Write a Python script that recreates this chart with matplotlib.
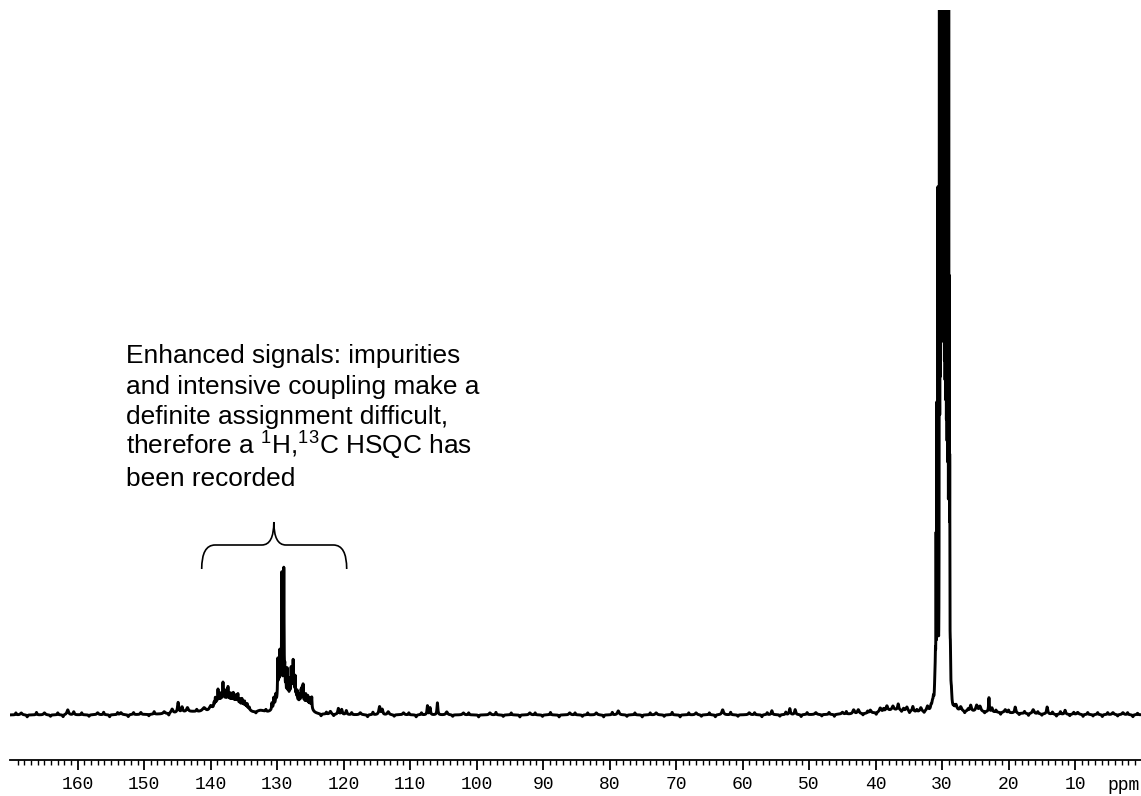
import numpy as np
import matplotlib
matplotlib.use("Agg")
import matplotlib.pyplot as plt
from matplotlib.path import Path
from matplotlib.patches import PathPatch

plt.rcParams['mathtext.fontset'] = 'custom'
plt.rcParams['mathtext.rm'] = 'Liberation Sans'
plt.rcParams['mathtext.it'] = 'Liberation Sans'

# ---------------- data ----------------
ppm_left, ppm_right = 170.18, 0.08
major_ticks = [160, 150, 140, 130, 120, 110, 100, 90, 80, 70, 60, 50, 40, 30, 20, 10]
major_labels = [str(t) for t in major_ticks]
axis_unit = "ppm"

# baseline features: position (ppm), height, FWHM (ppm)
base_ppm = [168.5, 165.0, 161.5, 160.6, 157.0, 153.5, 150.5, 147.0, 145.8, 144.9,
            144.3, 143.5, 143.0, 141.0, 140.0, 132.5, 122.0, 120.8, 120.3, 119.6,
            117.5, 114.6, 114.2, 113.3, 111.0, 107.4, 107.0, 105.9, 104.5, 102.0,
            98.0, 92.0, 86.0, 82.0, 78.7, 73.0, 67.0, 63.0, 59.0, 55.6,
            52.9, 52.1, 49.0, 45.0, 43.3, 42.6, 37.0, 40.8, 39.3, 38.3,
            37.4, 36.6, 35.3, 34.4, 33.2, 32.2, 27.9, 27.2, 25.7, 24.8,
            24.3, 25.0, 22.95, 22.5, 20.5, 19.0, 16.3, 14.2, 11.5, 9.6,
            4.3, 2.8]
base_h = [2, 2, 5, 3, 2, 2, 2, 2, 4, 10,
          5, 4, 3, 4, 5, 3, 3, 6, 5, 4,
          2, 8, 5, 3, 2, 9, 7, 12, 3, 2,
          2, 2, 2, 2, 4, 2, 2, 5, 2, 4,
          6, 5, 2, 2, 4, 4, 4, 3, 4, 5,
          4, 6, 4, 5, 4, 5, 5, 4, 6, 6,
          5, 3, 14, 4, 3, 6, 4, 7, 4, 2,
          2, 2]
base_w = [0.3, 0.3, 0.3, 0.2, 0.3, 0.3, 0.2, 0.3, 0.3, 0.2,
          0.2, 0.3, 6.0, 0.6, 0.5, 1.5, 0.3, 0.2, 0.2, 0.2,
          0.3, 0.25, 0.2, 0.3, 0.3, 0.15, 0.15, 0.15, 0.3, 0.3,
          0.3, 0.3, 0.3, 0.3, 0.3, 0.3, 0.3, 0.3, 0.3, 0.2,
          0.2, 0.2, 0.3, 0.3, 0.3, 0.3, 5.0, 0.3, 0.3, 0.3,
          0.3, 0.2, 0.3, 0.2, 0.3, 0.3, 0.3, 0.3, 0.25, 0.3,
          0.3, 14.0, 0.12, 0.2, 0.3, 0.2, 0.3, 0.2, 0.2, 0.3,
          0.3, 0.3]

# small baseline jitter (ppm, height)
jit_ppm = [169.3, 167.6, 166.2, 164.1, 163.0, 162.2, 159.4, 158.3, 156.1, 155.2,
           154.0, 152.4, 151.6, 149.3, 148.5, 146.3, 142.1, 133.2, 131.7, 123.4,
           122.6, 121.5, 118.8, 116.4, 115.6, 112.4, 110.2, 109.1, 108.3, 103.6,
           101.2, 99.7, 97.1, 96.0, 94.8, 93.5, 91.2, 90.1, 88.9, 87.6,
           85.2, 84.1, 83.3, 80.9, 79.6, 77.4, 76.2, 75.1, 73.9, 71.8,
           70.6, 69.4, 68.1, 66.2, 65.0, 64.1, 61.8, 60.7, 58.2, 57.1,
           56.3, 54.4, 53.5, 51.2, 50.3, 48.1, 47.0, 46.2, 44.4, 41.9,
           41.2, 39.9, 38.8, 36.1, 35.8, 34.9, 33.8, 32.7, 28.2, 26.6,
           26.1, 23.6, 21.9, 21.2, 20.0, 18.4, 17.6, 17.0, 15.6, 15.0,
           13.4, 12.8, 12.2, 10.8, 10.2, 8.8, 8.1, 7.3, 6.6, 5.9,
           5.1, 3.6, 2.1, 1.3, 0.6]
jit_h = [2, -2, 2.5, -1.5, 2, -2, 2, -1.5, 2.5, -2,
         2, -2, 2, -1.5, 2.5, -2, 2, -1.5, 2, -2,
         2, -1.5, 2, -2, 2.5, -1.5, 2, -2, 2, -1.5,
         2, -2, 2.5, -1.5, 2, -2, 2, -1.5, 2.5, -2,
         2, -1.5, 2, -2, 2.5, -1.5, 2, -2, 2, -1.5,
         2.5, -2, 2, -1.5, 2, -2, 2.5, -1.5, 2, -2,
         2, -1.5, 2.5, -2, 2, -1.5, 2, -2, 2.5, -1.5,
         2, -2, 2.5, -1.5, 2, -2, 2, -1.5, 2.5, -2,
         2, -1.5, 2, -2, 2.5, -1.5, 2, -2, 2, -1.5,
         2, -2, 2.5, -1.5, 2, -2, 2, -1.5, 2, -2,
         2, -1.5, 2, -2, 1.5]
jit_w = 0.15

# aromatic cluster ~139.6-133.9 ppm: broad body components + sharp lines
aroA_body_ppm = [139.3, 138.8, 138.3, 137.8, 137.3, 136.8, 136.3, 135.8, 135.3, 134.8, 134.3]
aroA_body_h   = [4, 5.5, 5.5, 5.5, 5.5, 5.5, 5, 5, 4, 3, 2.5]
aroA_ppm = [139.5, 139.3, 139.1, 138.9, 138.7, 138.5, 138.3, 138.15, 138.0, 137.8,
            137.6, 137.4, 137.2, 137.0, 136.8, 136.6, 136.4, 136.2, 136.0, 135.9,
            135.6, 135.3, 135.1, 134.9, 134.7, 134.5, 134.2]
aroA_h   = [4, 7, 5, 13, 7, 8, 6, 18, 7, 10,
            7, 14, 6, 8, 6, 9, 5, 7, 6, 8,
            5, 6, 4, 5, 3, 4, 2]

# aromatic cluster ~130.8-124.6 ppm
aroB_body_ppm = [130.4, 129.9, 129.4, 128.9, 128.4, 127.9, 127.4, 126.9, 126.4, 125.9, 125.4, 124.9]
aroB_body_h   = [4, 7, 8, 8, 7, 7, 6, 5, 5, 4.5, 4, 3.5]
aroB_ppm = [130.8, 130.5, 130.2, 129.9, 129.75, 129.6, 129.45, 129.3, 129.0, 128.85,
            128.7, 128.5, 128.3, 128.1, 127.9, 127.75, 127.6, 127.45, 127.3, 127.15,
            127.0, 126.8, 126.6, 126.4, 126.25, 126.1, 125.9, 125.7, 125.55, 125.4,
            125.25, 125.1, 124.95, 124.8]
aroB_h   = [6, 8, 8, 38, 25, 42, 20, 120, 125, 22,
            14, 27, 12, 18, 28, 22, 36, 18, 22, 8,
            10, 3, 8, 12, 14, 18, 8, 10, 5, 9,
            4, 8, 5, 11]

# aliphatic main signal ~31.7-28.5 ppm
ali_ppm = [31.65, 31.45, 31.3, 31.1, 31.0, 30.9, 30.77, 30.62,
           30.40, 30.30, 30.20, 30.10, 30.00, 29.90, 29.80, 29.70, 29.60, 29.50,
           29.40, 29.30, 29.20, 29.10, 29.00, 28.92, 28.85, 28.75, 28.6]
ali_h   = [4, 6, 8, 15, 40, 150, 280, 500,
           1500, 1600, 1800, 2000, 2000, 2000, 1900, 1800, 1700, 1600,
           1500, 1400, 1300, 1200, 900, 360, 200, 40, 12]
ali_w   = [0.2, 0.2, 0.15, 0.15, 0.1, 0.05, 0.05, 0.05,
           0.03, 0.03, 0.03, 0.03, 0.03, 0.03, 0.03, 0.03, 0.03, 0.03,
           0.03, 0.03, 0.03, 0.03, 0.03, 0.04, 0.05, 0.1, 0.15]

# annotation
note_lines = ["Enhanced signals: impurities",
              "and intensive coupling make a",
              "definite assignment difficult,",
              r"therefore a $^{1}$H,$^{13}$C HSQC has",
              "been recorded"]
brace_left_ppm, brace_tip_ppm, brace_right_ppm = 141.35, 130.5, 119.54
brace_end_y, brace_bar_y, brace_tip_y = 146, 170, 193

# ---------------- build spectrum ----------------
peak_ppm = np.array(base_ppm + jit_ppm + aroA_body_ppm + aroA_ppm + aroB_body_ppm + aroB_ppm + ali_ppm, float)
peak_h = np.array(base_h + jit_h + aroA_body_h + aroA_h + aroB_body_h + aroB_h + ali_h, float)
peak_w = np.array(base_w + [jit_w] * len(jit_ppm)
                  + [0.8] * len(aroA_body_ppm) + [0.1] * len(aroA_ppm)
                  + [0.8] * len(aroB_body_ppm) + [0.09] * len(aroB_ppm)
                  + ali_w, float)

ppm = np.linspace(ppm_left, ppm_right, 40000)
gam = peak_w / 2.0
spec = (peak_h[None, :] / (1.0 + ((ppm[:, None] - peak_ppm[None, :]) / gam[None, :]) ** 2)).sum(axis=1)

# ---------------- figure ----------------
W, H = 1141, 796
fig = plt.figure(figsize=(W / 100, H / 100), dpi=100)
ax = fig.add_axes([10 / W, 36 / H, 1131 / W, 750 / H])
ax.plot(ppm, spec, color='black', lw=2.1)
ax.set_xlim(ppm_left, ppm_right)
ax.set_ylim(-45, 705)

for s in ['left', 'right', 'top']:
    ax.spines[s].set_visible(False)
ax.spines['bottom'].set_linewidth(1.3)
ax.set_yticks([])
ax.set_xticks(major_ticks)
ax.set_xticklabels(major_labels, family='Liberation Mono', fontsize=13)
ax.set_xticks([v for v in range(1, 170) if v % 10 != 0], minor=True)
ax.tick_params(axis='x', which='major', direction='out', length=7.2, width=1.3, pad=4.5)
ax.tick_params(axis='x', which='minor', direction='out', length=3.6, width=1.0)

fig.text(1107 / W, 1 - 786 / H, axis_unit, family='Liberation Mono', fontsize=13,
         ha='left', va='center')

for i, line in enumerate(note_lines):
    fig.text(126.5 / W, 1 - (363.5 + 30.5 * i) / H, line, family='Liberation Sans',
             fontsize=18.9, ha='left', va='baseline')

# brace
verts = [(brace_left_ppm, brace_end_y),
         (brace_left_ppm, brace_bar_y), (brace_left_ppm - 2.0, brace_bar_y),
         (brace_tip_ppm + 1.8, brace_bar_y),
         (brace_tip_ppm, brace_bar_y), (brace_tip_ppm, brace_tip_y),
         (brace_tip_ppm, brace_bar_y), (brace_tip_ppm - 1.8, brace_bar_y),
         (brace_right_ppm + 2.0, brace_bar_y),
         (brace_right_ppm, brace_bar_y), (brace_right_ppm, brace_end_y)]
codes = [Path.MOVETO, Path.CURVE3, Path.CURVE3, Path.LINETO, Path.CURVE3, Path.CURVE3,
         Path.CURVE3, Path.CURVE3, Path.LINETO, Path.CURVE3, Path.CURVE3]
ax.add_patch(PathPatch(Path(verts, codes), facecolor='none', edgecolor='black', lw=1.2))

fig.savefig("out.png", dpi=100)
